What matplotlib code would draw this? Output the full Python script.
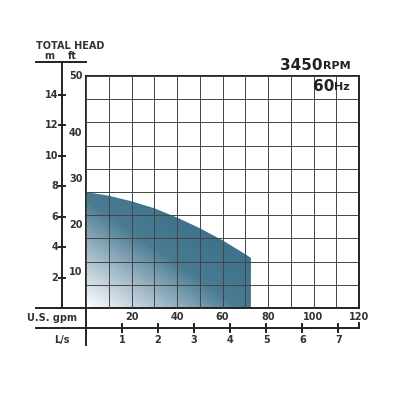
import numpy as np
import matplotlib.pyplot as plt
from matplotlib.colors import LinearSegmentedColormap

# pump curve (U.S. gpm vs ft)
flow_gpm = [0, 10, 20, 30, 40, 50, 60, 70, 72.5]
head_ft = [25.0, 24.2, 23.0, 21.5, 19.5, 17.2, 14.6, 11.6, 10.8]
gpm_ticks = [20, 40, 60, 80, 100, 120]
ft_ticks = [10, 20, 30, 40, 50]
m_ticks = [2, 4, 6, 8, 10, 12, 14]
ls_ticks = [1, 2, 3, 4, 5, 6, 7]

fig = plt.figure(figsize=(4, 4), dpi=100)
ax = fig.add_axes([86/400, 1-308/400, 273/400, 232/400])
ax.set_xticks(np.arange(0, 121, 10))
ax.set_yticks(np.arange(0, 51, 5))
ax.grid(True, color='#444444', lw=0.7)
ax.set_axisbelow(False)
ax.tick_params(length=0, labelbottom=False, labelleft=False)
for s in ax.spines.values():
    s.set_linewidth(1.4)
    s.set_color('#222222')

# gradient fill under curve
cmap = LinearSegmentedColormap.from_list('g', ['#ffffff', '#a9bfcc', '#4a7b93', '#3e718a'])
gx, gy = np.meshgrid(np.linspace(0, 1, 200), np.linspace(0, 1, 200))
grad = np.clip((gx + gy) / 1.4, 0, 1)
poly = ax.fill(flow_gpm + [flow_gpm[-1], 0], head_ft + [0, 0], facecolor='none', edgecolor='none')[0]
im = ax.imshow(grad, extent=[0, flow_gpm[-1], 0, max(head_ft)], origin='lower',
               cmap=cmap, aspect='auto', zorder=1.5)
im.set_clip_path(poly)
ax.set_xlim(0, 120)
ax.set_ylim(0, 50)

tr = ax.transData
kw = dict(color='#222222', lw=1.4, clip_on=False, transform=tr)
tk = dict(fontsize=7, fontweight='bold', color='#333333')
# m axis
mx = -10.5
ax.plot([mx, mx], [0, 53], **kw)
for m in m_ticks:
    y = m * 3.2808
    ax.plot([mx - 1.2, mx + 1.2], [y, y], **kw)
    ax.text(mx - 1.8, y, str(m), ha='right', va='center', **tk)
for f in ft_ticks:
    ax.text(-1.5, f - 2.2 if f < 50 else f, str(f), ha='right', va='center', **tk)
ax.plot([-22, 0], [53, 53], **kw)
ax.text(-22, 56.5, 'TOTAL HEAD', ha='left', va='center', **tk)
ax.text(-16, 54.3, 'm', ha='center', va='center', **tk)
ax.text(-6, 54.3, 'ft', ha='center', va='center', **tk)

# bottom scales
ax.plot([-22, 0], [0, 0], **kw)
ax.plot([0, 0], [0, -8], **kw)
yl = -4.3
ax.plot([-22, 120], [yl, yl], **kw)
ax.plot([120, 120], [yl, yl + 1], **kw)
for g in gpm_ticks:
    ax.text(g, -2.0, str(g), ha='center', va='center', **tk)
ax.text(-4, -2.2, 'U.S. gpm', ha='right', va='center', **tk)
for l in ls_ticks:
    g = l * 15.85
    ax.plot([g, g], [yl - 0.8, yl + 0.8], **kw)
    ax.text(g, -7.0, str(l), ha='center', va='center', **tk)
ax.text(-10.5, -7.0, 'L/s', ha='center', va='center', **tk)

# speed / frequency labels
ax.text(104, 52.3, '3450', ha='right', va='center', fontsize=11, fontweight='bold', color='#222222', clip_on=False)
ax.text(104, 52.1, 'RPM', ha='left', va='center', fontsize=8, fontweight='bold', color='#222222', clip_on=False)
ax.text(109, 47.8, '60', ha='right', va='center', fontsize=11, fontweight='bold', color='#222222')
ax.text(109, 47.6, 'Hz', ha='left', va='center', fontsize=8, fontweight='bold', color='#222222')

fig.savefig('out.png', dpi=100, facecolor='white')
